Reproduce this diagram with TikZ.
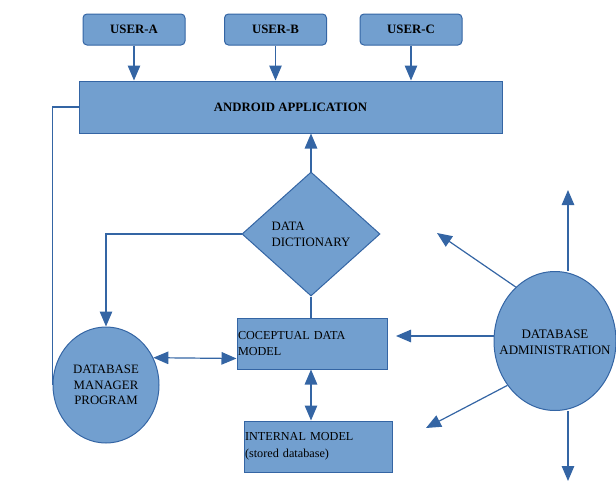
\documentclass[tikz,border=0pt]{standalone}
\usepackage{fontspec}
\setmainfont{Liberation Serif}
\usetikzlibrary{arrows.meta,shapes.geometric}
\definecolor{boxfill}{HTML}{729FCF}
\definecolor{boxline}{HTML}{3465A4}

\begin{document}
\begin{tikzpicture}[x=1pt,y=-1pt,
  blk/.style={draw=boxline, fill=boxfill, line width=1pt, inner sep=1pt},
  usr/.style={blk, rounded corners=4pt, minimum width=102pt, minimum height=31pt,
    font=\bfseries\fontsize{12.8}{15}\selectfont},
  ell/.style={blk, ellipse, inner sep=0pt},
  lnk/.style={draw=boxline, line width=1.2pt},
  arr/.style={lnk, -{Triangle[length=15pt,width=12.5pt]}},
  dbl/.style={lnk, {Triangle[length=15pt,width=12.5pt]}-{Triangle[length=15pt,width=12.5pt]}},
  txt/.style={font=\fontsize{12.8}{15.8}\selectfont},
  boxtxt/.style={font=\fontsize{12.2}{16.5}\selectfont}]
\useasboundingbox (0,0) rectangle (616,482);

% users and application
\node[usr] (usera) at (134,29.5) {USER-A};
\node[usr] (userb) at (275.5,29.5) {USER-B};
\node[usr] (userc) at (411,29.5) {USER-C};
\node[blk, minimum width=423pt, minimum height=52pt, font=\bfseries\fontsize{12.8}{15}\selectfont]
  (app) at (290.5,107) {ANDROID APPLICATION};

% data dictionary and models
\node[blk, diamond, aspect=1.1, inner sep=0pt, minimum width=138pt, minimum height=124pt,
  txt, align=left] (dd) at (311,234) {DATA\\DICTIONARY};
\node[blk, boxtxt, minimum width=150pt, minimum height=51pt, text width=148pt, align=left]
  (cdm) at (312,343.5) {COCEPTUAL DATA\\MODEL};
\node[blk, boxtxt, minimum width=148pt, minimum height=51pt, text width=146pt, align=left]
  (im) at (318,446.5) {INTERNAL MODEL\\(stored database)};

% manager and administration
\node[ell, txt, align=center, minimum width=106pt, minimum height=116pt]
  (dbm) at (106,385) {DATABASE\\MANAGER\\PROGRAM};
\node[ell, minimum width=122pt, minimum height=139pt] (dba) at (555,341) {};
\node[txt, align=center, font=\fontsize{13}{16}\selectfont] (dbatext) at (555,342)
  {DATABASE\\ADMINISTRATION};

\draw[arr] (usera.south) -- (usera.south |- app.north);
\draw[arr] (userb.south) -- (userb.south |- app.north);
\draw[arr] (userc.south) -- (userc.south |- app.north);

\draw[lnk] (app.west) -| (dbm.west);
\draw[arr] (dd.north) -- (dd.north |- app.south);
\draw[arr] (dd.west) -| (dbm.north);
\draw[lnk] (dd.south) -- (dd.south |- cdm.north);
\draw[dbl] (dbm.30) -- ([yshift=-15pt]cdm.west);
\draw[dbl] (cdm.south -| dd.south) -- (im.north -| dd.south);

\coordinate (dbaup) at (568,190);
\coordinate (dbaul) at (437,233);
\coordinate (dbal) at (396,336);
\coordinate (dbadl) at (426,428);
\coordinate (dbadn) at (568,481);
\draw[arr] (dbaup |- dba.north) -- (dbaup);
\draw[arr] (dba.126) -- (dbaul);
\draw[arr] (dbal -| dba.west) -- (dbal);
\draw[arr] (dba.223) -- (dbadl);
\draw[arr] (dbadn |- dba.south) -- (dbadn);
\end{tikzpicture}
\end{document}
